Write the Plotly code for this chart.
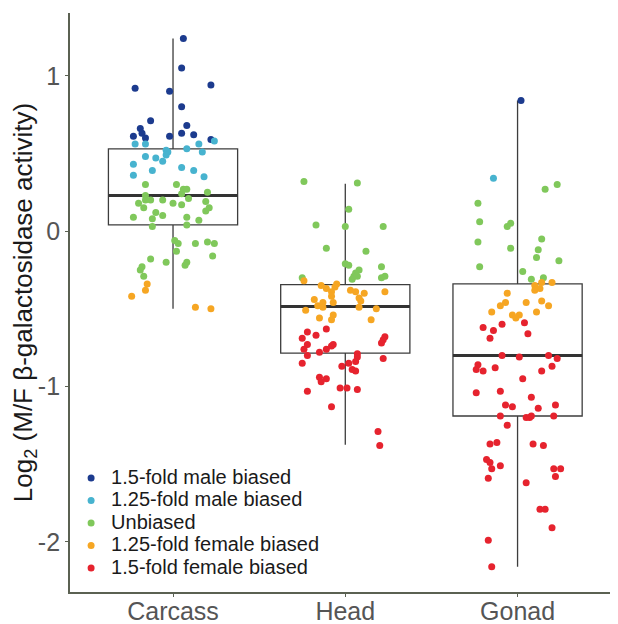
import plotly.graph_objects as go

categories = ["Carcass", "Head", "Gonad"]
series_names = ["1.5-fold male biased", "1.25-fold male biased", "Unbiased",
                "1.25-fold female biased", "1.5-fold female biased"]
series_colors = ["#1c3b8e", "#47b3cf", "#80c85b", "#f6a623", "#e6232e"]

# box statistics (Carcass, Head, Gonad)
box_q1 = [0.04, -0.785, -1.19]
box_median = [0.23, -0.485, -0.80]
box_q3 = [0.53, -0.345, -0.34]
box_lower = [-0.50, -1.375, -2.16]
box_upper = [1.24, 0.305, 0.84]

# 1.5-fold male biased
m15_cat = ["Carcass"] * 16 + ["Gonad"]
m15_dx = [0.06, 0.05, -0.22, 0.22, -0.02, 0.05, -0.13, -0.19, 0.08, -0.23, -0.18, -0.16, -0.02, 0.05, 0.12, 0.22,
          0.02]
m15_y = [1.24, 1.05, 0.92, 0.94, 0.90, 0.80, 0.71, 0.66, 0.68, 0.61, 0.63, 0.60, 0.61, 0.63, 0.62, 0.59,
         0.84]

# 1.25-fold male biased
m125_cat = ["Carcass"] * 18 + ["Gonad"]
m125_dx = [0.24, -0.22, -0.16, 0.15, 0.08, -0.04, -0.03, -0.04, 0.17, -0.16, -0.10, -0.06, -0.23, 0.05, 0.12, -0.12,
           -0.23, 0.18, -0.14]
m125_y = [0.58, 0.56, 0.56, 0.56, 0.53, 0.52, 0.51, 0.49, 0.51, 0.48, 0.47, 0.45, 0.43, 0.41, 0.39, 0.39,
          0.36, 0.35, 0.34]

# Unbiased
ub_cat = ["Carcass"] * 40 + ["Head"] * 19 + ["Gonad"] * 16
ub_dx = [-0.16, 0.02, 0.06, 0.08, 0.20, -0.16, 0.05, -0.16, -0.13, -0.06, 0.09, -0.20, 0.00, 0.05, 0.19, -0.17,
         0.21, 0.19, -0.10, -0.06, -0.23, 0.08, -0.12, 0.15, -0.12, 0.08, 0.01, 0.03, 0.13, 0.20, 0.24, 0.02,
         0.23, -0.13, -0.04, 0.08, 0.07, -0.18, -0.19, -0.17,
         -0.24, 0.07, 0.02, -0.17, 0.00, 0.22, -0.11, 0.12, 0.00, 0.02, 0.21, 0.08, 0.06, 0.05, 0.04, 0.07,
         -0.25, 0.21, 0.23,
         0.23, 0.16, -0.23, -0.22, -0.04, -0.06, 0.14, -0.23, -0.04, 0.12, 0.11, 0.24, -0.22, 0.03, 0.08, 0.15]
ub_y = [0.30, 0.30, 0.27, 0.27, 0.25, 0.23, 0.24, 0.20, 0.20, 0.20, 0.21, 0.18, 0.18, 0.17, 0.19, 0.15,
        0.15, 0.13, 0.12, 0.10, 0.09, 0.09, 0.08, 0.07, 0.03, 0.04, -0.06, -0.08, -0.08, -0.07, -0.08, -0.13,
        -0.16, -0.18, -0.20, -0.20, -0.22, -0.23, -0.25, -0.29,
        0.32, 0.31, 0.14, 0.04, 0.03, 0.03, -0.11, -0.13, -0.21, -0.22, -0.23, -0.25, -0.27, -0.29, -0.31, -0.29,
        -0.30, -0.30, -0.29,
        0.30, 0.27, 0.18, 0.06, 0.05, 0.03, -0.05, -0.07, -0.11, -0.12, -0.17, -0.19, -0.23, -0.26, -0.31, -0.30]

# 1.25-fold female biased
f125_cat = ["Carcass"] * 5 + ["Head"] * 25 + ["Gonad"] * 16
f125_dx = [-0.15, -0.16, -0.24, 0.13, 0.22,
           -0.24, -0.05, -0.14, -0.06, -0.11, -0.08, 0.03, 0.06, 0.11, 0.23, -0.08, 0.08, -0.18, 0.09, -0.07,
           -0.13, -0.16, 0.08, -0.13, 0.18, -0.23, -0.07, -0.15, -0.08, 0.15,
           0.14, 0.20, 0.10, 0.13, 0.10, -0.06, 0.14, 0.05, -0.07, -0.10, 0.18, -0.15, 0.11, 0.01, -0.03, -0.01]
f125_y = [-0.34, -0.38, -0.42, -0.49, -0.50,
          -0.32, -0.34, -0.35, -0.36, -0.37, -0.39, -0.38, -0.39, -0.40, -0.39, -0.42, -0.43, -0.44, -0.45, -0.46,
          -0.46, -0.48, -0.49, -0.49, -0.50, -0.51, -0.54, -0.56, -0.57, -0.57,
          -0.33, -0.33, -0.35, -0.37, -0.38, -0.40, -0.45, -0.46, -0.46, -0.48, -0.48, -0.52, -0.52, -0.54, -0.54,
          -0.56]

# 1.5-fold female biased
f15_cat = ["Head"] * 33 + ["Gonad"] * 48
f15_dx = [-0.11, -0.22, -0.17, 0.23, -0.25, 0.22, 0.21, -0.22, -0.07, -0.08, -0.11, -0.24, -0.15, -0.22, 0.07,
          0.07, 0.06, 0.22, -0.25, 0.02, -0.02, 0.04, 0.06, -0.15, -0.11, -0.14, -0.03, 0.01, 0.07, -0.22,
          -0.08, 0.19, 0.20,
          -0.20, -0.09, 0.04, -0.14, 0.06, -0.16, -0.09, 0.01, 0.18, 0.23, -0.23, -0.24, -0.20, -0.13, 0.20,
          0.14, 0.03, -0.24, -0.10, 0.08, -0.07, -0.03, 0.12, 0.22, -0.10, 0.05, 0.07, 0.08, 0.21, -0.06,
          -0.16, -0.12, 0.09, 0.15, -0.18, -0.16, -0.10, -0.15, 0.21, 0.25, 0.22, -0.17, 0.05, 0.13, 0.16,
          0.20, -0.17, -0.15]
f15_y = [-0.63, -0.65, -0.67, -0.68, -0.69, -0.70, -0.72, -0.73, -0.73, -0.74, -0.76, -0.76, -0.78, -0.80, -0.79,
         -0.81, -0.84, -0.82, -0.85, -0.85, -0.87, -0.89, -0.90, -0.94, -0.95, -0.97, -1.01, -1.01, -1.02, -1.03,
         -1.13, -1.29, -1.38,
         -0.62, -0.60, -0.59, -0.64, -0.66, -0.69, -0.80, -0.81, -0.80, -0.82, -0.86, -0.89, -0.90, -0.88, -0.87,
         -0.90, -0.95, -1.04, -1.03, -1.07, -1.12, -1.13, -1.14, -1.12, -1.19, -1.20, -1.20, -1.19, -1.19, -1.25,
         -1.37, -1.36, -1.37, -1.38, -1.47, -1.49, -1.51, -1.53, -1.53, -1.53, -1.58, -1.59, -1.62, -1.79, -1.79,
         -1.91, -1.99, -2.16]

series_data = [(m15_cat, m15_dx, m15_y), (m125_cat, m125_dx, m125_y), (ub_cat, ub_dx, ub_y),
               (f125_cat, f125_dx, f125_y), (f15_cat, f15_dx, f15_y)]

BOX_WIDTH = 0.75
pos = {c: i + 1 for i, c in enumerate(categories)}

fig = go.Figure()

for i, c in enumerate(categories):
    fig.add_trace(go.Box(
        x=[pos[c]], q1=[box_q1[i]], median=[box_median[i]], q3=[box_q3[i]],
        lowerfence=[box_lower[i]], upperfence=[box_upper[i]],
        width=BOX_WIDTH, whiskerwidth=0, boxpoints=False,
        fillcolor="white", line=dict(color="#3d3d3d", width=1.3),
        showlegend=False, hoverinfo="skip"))

# thick median lines
for i, c in enumerate(categories):
    fig.add_trace(go.Scatter(
        x=[pos[c] - BOX_WIDTH / 2, pos[c] + BOX_WIDTH / 2], y=[box_median[i], box_median[i]],
        mode="lines", line=dict(color="#333333", width=3), showlegend=False, hoverinfo="skip"))

for name, color, (cats, dx, ys) in zip(series_names, series_colors, series_data):
    fig.add_trace(go.Scatter(
        x=[pos[c] + d for c, d in zip(cats, dx)], y=ys, mode="markers",
        name="<span style='font-size:20px'>" + name + "</span>",
        marker=dict(color=color, size=7, line=dict(width=0))))

axis_color = "#5b6152"
fig.update_layout(
    width=610, height=616,
    margin=dict(l=62, r=0, t=5, b=32),
    paper_bgcolor="white", plot_bgcolor="white",
    font=dict(family="Liberation Sans, Arial, sans-serif"),
    showlegend=True,
    legend=dict(x=0.002, y=0.225, xanchor="left", yanchor="top",
                bgcolor="rgba(0,0,0,0)", font=dict(size=15, color="#1a1a1a"),
                traceorder="normal"),
    xaxis=dict(range=[0.402, 3.583], tickvals=[1, 2, 3], ticktext=categories, automargin=False,
               showgrid=False, zeroline=False, showline=True, linecolor=axis_color, linewidth=1.8,
               ticks="outside", ticklen=3, tickcolor=axis_color, tickwidth=1, ticklabelstandoff=-7,
               tickfont=dict(size=25, color="#555555")),
    yaxis=dict(range=[-2.323, 1.404], tickvals=[-2, -1, 0, 1], ticktext=["-2", "-1", "0", "1"],
               automargin=False,
               showgrid=False, zeroline=False, showline=True, linecolor=axis_color, linewidth=1.8,
               ticks="outside", ticklen=3, tickcolor=axis_color, tickwidth=1,
               tickfont=dict(size=25, color="#555555"),
               title=dict(text="Log<sub>2</sub> (M/F β-galactosidase activity)",
                          font=dict(size=26, color="#1a1a1a"), standoff=1)),
)

fig.write_html("out.html")
